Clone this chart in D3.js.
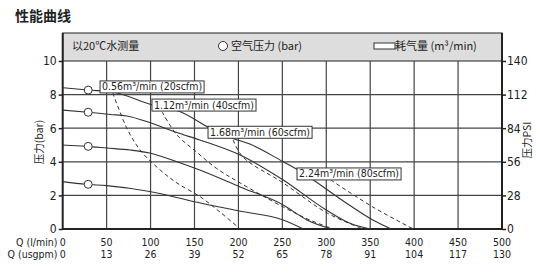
<!DOCTYPE html>
<html lang="zh">
<head>
<meta charset="UTF-8">
<title>性能曲线</title>
<style>
    body { margin: 0; background: #fff; }
    svg { display: block; }
    .tick-label { font-family: "DejaVu Sans Condensed", "DejaVu Sans", sans-serif; font-stretch: condensed; font-size: 10.5px; fill: #222; }
    .cjk { font-family: "Noto Sans CJK SC", sans-serif; fill: #222; }
    .flow-label { font-family: "DejaVu Sans Condensed", "DejaVu Sans", sans-serif; font-stretch: condensed; font-size: 10.5px; fill: #222; }
</style>
<script src="https://cdn.jsdelivr.net/npm/d3@7/dist/d3.min.js"></script>
</head>
<body>
<svg width="540" height="273"></svg>
<script>
    // axis ticks
    const qTicks = [0, 50, 100, 150, 200, 250, 300, 350, 400, 450, 500];
    const usgpmTicks = [0, 13, 26, 39, 52, 65, 78, 91, 104, 117, 130];
    const barTicks = [0, 2, 4, 6, 8, 10];
    const psiTicks = [0, 28, 56, 84, 112, 140];

    // pressure curves (Q l/min, bar)
    const curve8 = [[0, 8.41], [29, 8.27], [57, 8.15], [102, 7.38], [134, 6.98], [168, 5.99], [194, 5.39], [213, 5.06], [251, 4.0], [268, 3.51], [316, 1.79], [353, 0.54], [374, 0]];
    const curve7 = [[0, 7.08], [29, 6.95], [54, 6.82], [73, 6.73], [99, 6.34], [130, 5.74], [156, 5.3], [202, 4.4], [251, 2.92], [300, 1.13], [327, 0.34], [350, 0]];
    const curve5 = [[0, 5.0], [27, 4.92], [50, 4.82], [77, 4.7], [99, 4.52], [130, 4.0], [156, 3.51], [202, 2.5], [251, 1.43], [278, 0.54], [306, 0]];
    const curve3 = [[0, 2.82], [27, 2.66], [50, 2.58], [99, 2.23], [150, 1.62], [201, 1.07], [251, 0.54], [274, 0]];

    // air consumption curves (dashed)
    const air056 = [[57, 8.1], [74, 5.89], [90, 4.58], [111, 3.51], [130, 2.74], [157, 1.9], [179, 1.01], [202, 0]];
    const air112 = [[113, 6.98], [130, 5.6], [152, 4.6], [175, 3.61], [202, 2.74], [251, 1.31], [281, 0.54], [308, 0]];
    const air168 = [[194, 5.3], [205, 4.29], [251, 2.74], [301, 0.95], [342, 0]];
    const air224 = [[305, 2.92], [353, 1.31], [399, 0]];

    const airLabels = ["0.56m³/min (20scfm)", "1.12m³/min (40scfm)", "1.68m³/min (60scfm)", "2.24m³/min (80scfm)"];
    // lower-left corner of each label box, in data units
    const airLabelAt = [[42.5, 8.1], [101.6, 7.02], [165.4, 5.4], [266.7, 2.92]];

    // air pressure markers
    const markers = [[29, 8.27], [29, 6.95], [29, 4.92], [29, 2.66]];

    const svg = d3.select('svg');
    const x = d3.scaleLinear().domain([0, 500]).range([62.7, 502]);
    const y = d3.scaleLinear().domain([0, 10]).range([229, 61]);
    const yPsi = d3.scaleLinear().domain([0, 140]).range([229, 61]);

    // title
    svg.append('text').attr('class', 'cjk')
        .attr('x', 15).attr('y', 21)
        .style('font-size', '14px').style('font-weight', 'bold')
        .text('性能曲线');

    // header band
    svg.append('rect')
        .attr('x', x(0)).attr('y', 33)
        .attr('width', x(500) - x(0)).attr('height', y(10) - 33)
        .attr('fill', '#dddddd').attr('stroke', '#444').attr('stroke-width', 1.2);

    svg.append('text').attr('class', 'cjk')
        .attr('x', 72).attr('y', 50).style('font-size', '11px')
        .text('以20℃水测量');
    svg.append('circle')
        .attr('cx', 223).attr('cy', 46).attr('r', 4.5)
        .attr('fill', '#fff').attr('stroke', '#333');
    svg.append('text').attr('class', 'cjk')
        .attr('x', 231).attr('y', 50).style('font-size', '11px')
        .text('空气压力 (bar)');
    svg.append('rect')
        .attr('x', 374).attr('y', 43).attr('width', 21).attr('height', 6)
        .attr('fill', '#fff').attr('stroke', '#333');
    svg.append('text').attr('class', 'cjk')
        .attr('x', 395).attr('y', 50).style('font-size', '11px')
        .text('耗气量 (m³/min)');

    // grid
    svg.append('g').selectAll('line')
        .data(qTicks.slice(1, -1))
        .join('line')
        .attr('x1', d => x(d)).attr('x2', d => x(d))
        .attr('y1', y(0)).attr('y2', y(10))
        .attr('stroke', '#444').attr('stroke-width', 1.2);
    svg.append('g').selectAll('line')
        .data(barTicks.slice(1, -1))
        .join('line')
        .attr('x1', x(0)).attr('x2', x(500))
        .attr('y1', d => y(d)).attr('y2', d => y(d))
        .attr('stroke', '#444').attr('stroke-width', 1.2);

    // axes
    const leftAxis = svg.append('g')
        .attr('transform', `translate(${x(0)},0)`)
        .call(d3.axisLeft(y).tickValues(barTicks).tickSize(4).tickPadding(2));
    const rightAxis = svg.append('g')
        .attr('transform', `translate(${x(500)},0)`)
        .call(d3.axisRight(yPsi).tickValues(psiTicks).tickSize(4).tickPadding(1));
    [leftAxis, rightAxis].forEach(g => {
        g.select('.domain').remove();
        g.selectAll('line').attr('stroke', '#222').attr('stroke-width', 1.5);
        g.selectAll('text').attr('class', 'tick-label').attr('font-family', null).attr('font-size', null)
            .style('font-size', '12px');
    });

    // frame lines (thick)
    svg.append('line').attr('x1', x(0)).attr('x2', x(0)).attr('y1', 33).attr('y2', y(0) + 1)
        .attr('stroke', '#222').attr('stroke-width', 2);
    svg.append('line').attr('x1', x(500)).attr('x2', x(500)).attr('y1', 33).attr('y2', y(0) + 1)
        .attr('stroke', '#222').attr('stroke-width', 2);
    svg.append('line').attr('x1', x(0)).attr('x2', x(500)).attr('y1', y(0)).attr('y2', y(0))
        .attr('stroke', '#222').attr('stroke-width', 2);

    // bottom tick labels
    svg.append('g').selectAll('text')
        .data(qTicks)
        .join('text').attr('class', 'tick-label')
        .attr('x', d => x(d)).attr('y', 245.5)
        .attr('text-anchor', 'middle')
        .text(d => d);
    svg.append('g').selectAll('text')
        .data(usgpmTicks)
        .join('text').attr('class', 'tick-label')
        .attr('x', (d, i) => x(qTicks[i])).attr('y', 258)
        .attr('text-anchor', 'middle')
        .text(d => d);
    svg.append('text').attr('class', 'tick-label')
        .attr('x', 57.5).attr('y', 245.5).attr('text-anchor', 'end')
        .text('Q (l/min)');
    svg.append('text').attr('class', 'tick-label')
        .attr('x', 57.5).attr('y', 258).attr('text-anchor', 'end')
        .text('Q (usgpm)');

    // axis titles
    svg.append('text').attr('class', 'cjk')
        .attr('transform', 'translate(43,142) rotate(-90)')
        .attr('text-anchor', 'middle').style('font-size', '10.5px')
        .text('压力(bar)');
    svg.append('text').attr('class', 'cjk')
        .attr('transform', 'translate(531,140) rotate(-90)')
        .attr('text-anchor', 'middle').style('font-size', '10.5px')
        .text('压力PSI');

    // curves
    const line = d3.line()
        .x(d => x(d[0]))
        .y(d => y(d[1]))
        .curve(d3.curveMonotoneX);

    [curve8, curve7, curve5, curve3].forEach(c => {
        svg.append('path')
            .attr('d', line(c))
            .attr('fill', 'none').attr('stroke', '#333').attr('stroke-width', 1.1);
    });

    const dashLine = d3.line()
        .x(d => x(d[0]))
        .y(d => y(d[1]))
        .curve(d3.curveCatmullRom);

    [air056, air112, air168, air224].forEach(c => {
        svg.append('path')
            .attr('d', dashLine(c))
            .attr('fill', 'none').attr('stroke', '#333').attr('stroke-width', 1)
            .attr('stroke-dasharray', '4,3');
    });

    // markers
    svg.append('g').selectAll('circle')
        .data(markers)
        .join('circle')
        .attr('cx', d => x(d[0])).attr('cy', d => y(d[1]))
        .attr('r', 4)
        .attr('fill', '#fff').attr('stroke', '#333').attr('stroke-width', 1);

    // flow labels
    airLabels.forEach((t, i) => {
        const lx = x(airLabelAt[i][0]);
        const by = y(airLabelAt[i][1]);
        const g = svg.append('g');
        const txt = g.append('text').attr('class', 'flow-label')
            .attr('x', lx + 2).attr('y', by - 2.5)
            .text(t);
        const w = txt.node().getComputedTextLength();
        g.insert('rect', 'text')
            .attr('x', lx).attr('y', by - 12)
            .attr('width', w + 4).attr('height', 12)
            .attr('fill', '#fff').attr('stroke', '#333').attr('stroke-width', 1);
    });
</script>
</body>
</html>
